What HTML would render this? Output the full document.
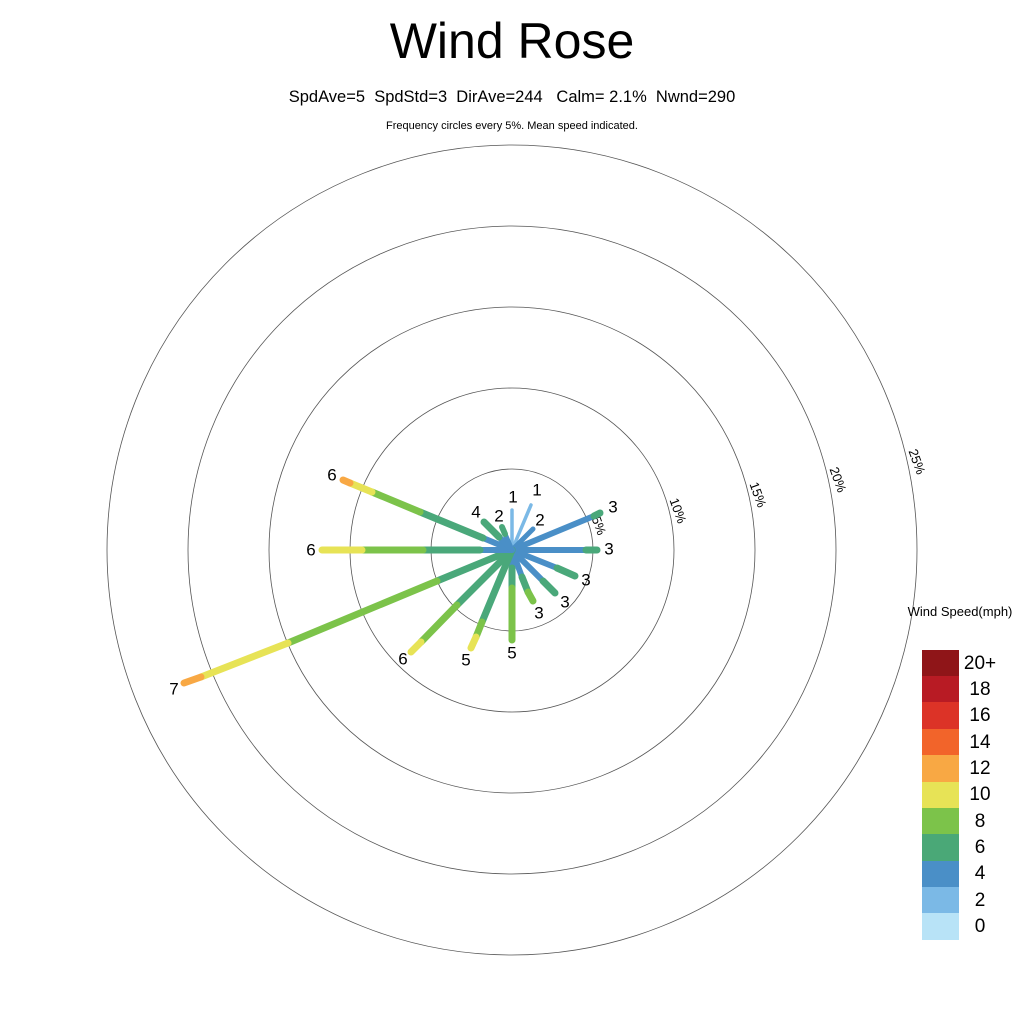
<!DOCTYPE html>
<html><head><meta charset="utf-8"><style>
html,body{margin:0;padding:0;background:#fff;}
svg{display:block;font-family:"Liberation Sans",sans-serif;}
.pre{white-space:pre;}
</style></head><body>
<svg width="1024" height="1024" viewBox="0 0 1024 1024" xmlns="http://www.w3.org/2000/svg">
<rect width="1024" height="1024" fill="#fff"/>
<text x="512" y="58" font-size="50" text-anchor="middle">Wind Rose</text>
<text class="pre" x="512" y="102" font-size="16.5" text-anchor="middle" xml:space="preserve">SpdAve=5  SpdStd=3  DirAve=244   Calm= 2.1%  Nwnd=290</text>
<text x="512" y="129" font-size="11" text-anchor="middle">Frequency circles every 5%. Mean speed indicated.</text>
<g fill="none" stroke="#555" stroke-width="0.8">
<circle cx="512" cy="550" r="81"/><circle cx="512" cy="550" r="162"/><circle cx="512" cy="550" r="243"/><circle cx="512" cy="550" r="324"/><circle cx="512" cy="550" r="405"/>
</g>
<g font-size="13">
<text transform="translate(598,526) rotate(70)" text-anchor="middle" dominant-baseline="middle">5%</text>
<text transform="translate(677,511) rotate(70)" text-anchor="middle" dominant-baseline="middle">10%</text>
<text transform="translate(757,495) rotate(70)" text-anchor="middle" dominant-baseline="middle">15%</text>
<text transform="translate(837,480) rotate(70)" text-anchor="middle" dominant-baseline="middle">20%</text>
<text transform="translate(916,462) rotate(70)" text-anchor="middle" dominant-baseline="middle">25%</text>
</g>
<g stroke-width="7" stroke-linecap="round" fill="none">
<line x1="512" y1="550" x2="512" y2="510" stroke="#7bb9e6" stroke-width="3.5"/>
<line x1="512" y1="550" x2="531" y2="505" stroke="#7bb9e6" stroke-width="3.5"/>
<line x1="512" y1="550" x2="533" y2="529" stroke="#4a8fc7" stroke-width="5"/>
<line x1="512" y1="550" x2="594" y2="516" stroke="#4a8fc7" stroke-width="6"/>
<line x1="594" y1="516" x2="600" y2="513" stroke="#4aa87a"/>
<line x1="512" y1="550" x2="586" y2="550" stroke="#4a8fc7" stroke-width="6"/>
<line x1="586" y1="550" x2="597" y2="550" stroke="#4aa87a"/>
<line x1="512" y1="550" x2="557" y2="568" stroke="#4a8fc7" stroke-width="6"/>
<line x1="557" y1="568" x2="575" y2="576" stroke="#4aa87a"/>
<line x1="512" y1="550" x2="543" y2="581" stroke="#4a8fc7" stroke-width="6"/>
<line x1="543" y1="581" x2="555" y2="593" stroke="#4aa87a"/>
<line x1="512" y1="550" x2="522" y2="577" stroke="#4a8fc7" stroke-width="6"/>
<line x1="522" y1="577" x2="528" y2="592" stroke="#4aa87a"/>
<line x1="528" y1="592" x2="533" y2="601" stroke="#7cc34a"/>
<line x1="512" y1="550" x2="512" y2="568" stroke="#4a8fc7" stroke-width="6"/>
<line x1="512" y1="568" x2="512" y2="588" stroke="#4aa87a"/>
<line x1="512" y1="588" x2="512" y2="640" stroke="#7cc34a"/>
<line x1="512" y1="550" x2="482" y2="622" stroke="#4aa87a"/>
<line x1="482" y1="622" x2="476" y2="637" stroke="#7cc34a"/>
<line x1="476" y1="637" x2="471" y2="648" stroke="#e7e356"/>
<line x1="512" y1="550" x2="457" y2="605" stroke="#4aa87a"/>
<line x1="457" y1="605" x2="421" y2="642" stroke="#7cc34a"/>
<line x1="421" y1="642" x2="411" y2="652" stroke="#e7e356"/>
<line x1="512" y1="550" x2="437" y2="581" stroke="#4aa87a"/>
<line x1="437" y1="581" x2="288" y2="643" stroke="#7cc34a"/>
<line x1="288" y1="643" x2="201" y2="677" stroke="#e7e356"/>
<line x1="201" y1="677" x2="184" y2="683" stroke="#f8a844"/>
<line x1="512" y1="550" x2="480" y2="550" stroke="#4a8fc7" stroke-width="6"/>
<line x1="480" y1="550" x2="423" y2="550" stroke="#4aa87a"/>
<line x1="423" y1="550" x2="362" y2="550" stroke="#7cc34a"/>
<line x1="362" y1="550" x2="322" y2="550" stroke="#e7e356"/>
<line x1="512" y1="550" x2="483" y2="538" stroke="#4a8fc7" stroke-width="6"/>
<line x1="483" y1="538" x2="420" y2="512" stroke="#4aa87a"/>
<line x1="420" y1="512" x2="372" y2="492" stroke="#7cc34a"/>
<line x1="372" y1="492" x2="350" y2="483" stroke="#e7e356"/>
<line x1="350" y1="483" x2="343" y2="480" stroke="#f8a844"/>
<line x1="512" y1="550" x2="499" y2="537" stroke="#4a8fc7" stroke-width="6"/>
<line x1="499" y1="537" x2="484" y2="522" stroke="#4aa87a"/>
<line x1="512" y1="550" x2="505" y2="534" stroke="#4a8fc7" stroke-width="5"/>
<line x1="505" y1="534" x2="502" y2="527" stroke="#4aa87a" stroke-width="6"/>
</g>
<g font-size="17" text-anchor="middle" dominant-baseline="middle">
<text x="513" y="498">1</text>
<text x="537" y="491">1</text>
<text x="540" y="521">2</text>
<text x="613" y="508">3</text>
<text x="609" y="550">3</text>
<text x="586" y="581">3</text>
<text x="565" y="603">3</text>
<text x="539" y="614">3</text>
<text x="512" y="654">5</text>
<text x="466" y="661">5</text>
<text x="403" y="660">6</text>
<text x="174" y="690">7</text>
<text x="311" y="551">6</text>
<text x="332" y="476">6</text>
<text x="476" y="513">4</text>
<text x="499" y="517">2</text>
</g>
<text x="960" y="616" font-size="13" text-anchor="middle">Wind Speed(mph)</text>
<g>
<rect x="922" y="650" width="37" height="27" fill="#8f1518"/>
<rect x="922" y="676" width="37" height="27" fill="#b81b24"/>
<rect x="922" y="702" width="37" height="27" fill="#dc3327"/>
<rect x="922" y="729" width="37" height="27" fill="#f2642a"/>
<rect x="922" y="755" width="37" height="27" fill="#f8a844"/>
<rect x="922" y="782" width="37" height="27" fill="#e7e356"/>
<rect x="922" y="808" width="37" height="27" fill="#7cc34a"/>
<rect x="922" y="834" width="37" height="27" fill="#4aa877"/>
<rect x="922" y="861" width="37" height="27" fill="#4a8fc7"/>
<rect x="922" y="887" width="37" height="27" fill="#7bb9e6"/>
<rect x="922" y="913" width="37" height="27" fill="#b8e3f7"/>
</g>
<g font-size="19" text-anchor="middle" dominant-baseline="middle">
<text x="980" y="664">20+</text>
<text x="980" y="690">18</text>
<text x="980" y="716">16</text>
<text x="980" y="743">14</text>
<text x="980" y="769">12</text>
<text x="980" y="795">10</text>
<text x="980" y="822">8</text>
<text x="980" y="848">6</text>
<text x="980" y="874">4</text>
<text x="980" y="901">2</text>
<text x="980" y="927">0</text>
</g>
</svg>
</body></html>
